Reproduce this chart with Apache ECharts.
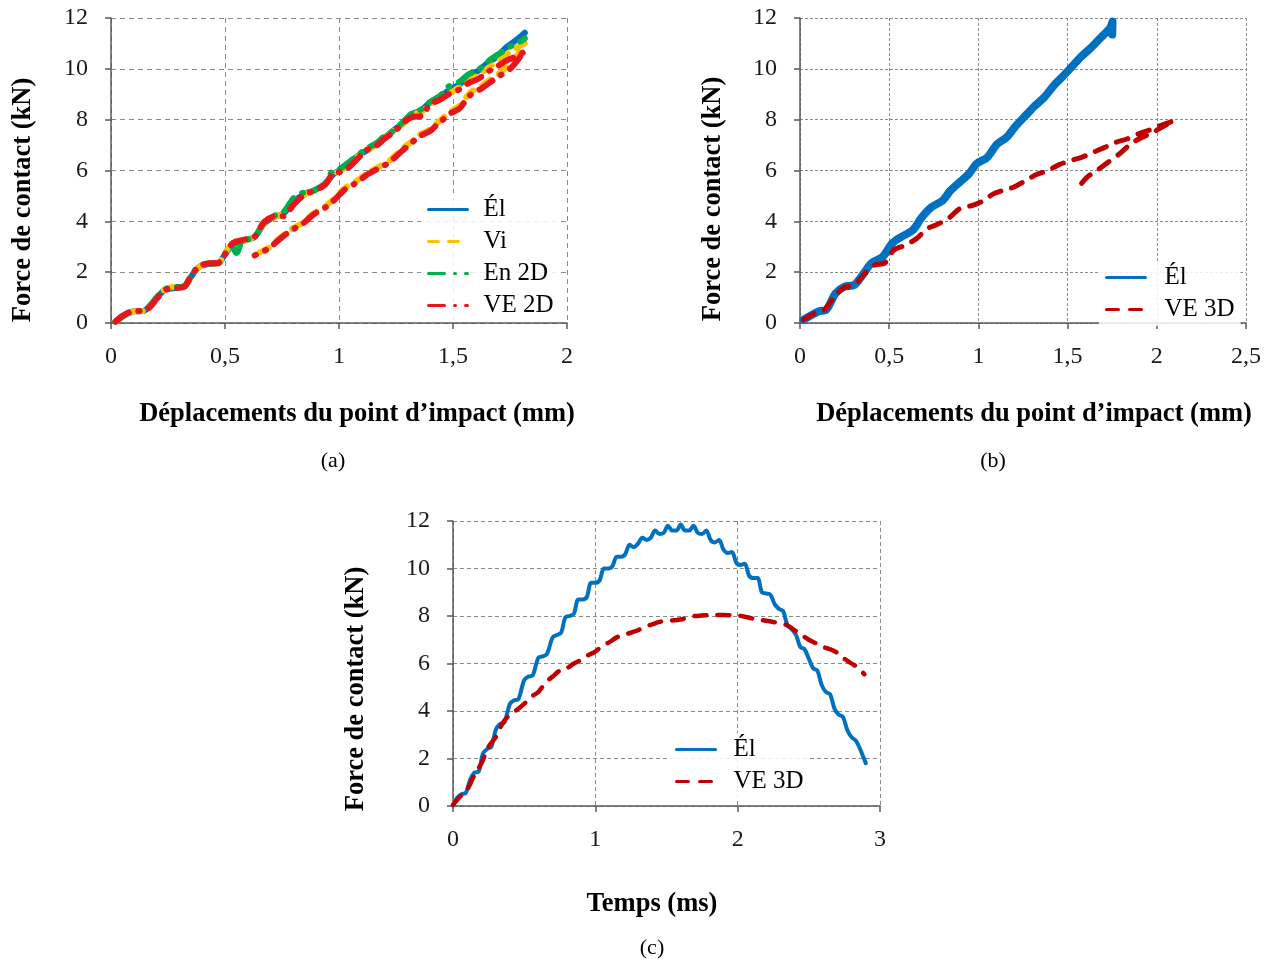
<!DOCTYPE html>
<html>
<head>
<meta charset="utf-8">
<script src="https://cdn.jsdelivr.net/npm/echarts@6/dist/echarts.min.js"></script>
<style>html,body{margin:0;padding:0;background:#fff}#c{width:1276px;height:961px}</style>
</head>
<body>
<div id="c"></div>
<script>
// ---------- DATA ----------
// (a) Force (kN) vs displacement (mm)
const aEl = [[0.02,0.05],[0.05,0.25],[0.08,0.4],[0.1,0.46],[0.14,0.47],[0.17,0.65],[0.2,0.98],[0.235,1.3],[0.27,1.37],[0.32,1.42],[0.35,1.8],[0.385,2.2],[0.43,2.33],[0.47,2.35],[0.5,2.7],[0.535,3.1],[0.585,3.25],[0.63,3.38],[0.67,3.9],[0.71,4.15],[0.755,4.3],[0.805,4.8],[0.85,5.08],[0.89,5.22],[0.94,5.48],[0.975,5.85],[1.01,6.05],[1.04,6.25],[1.075,6.52],[1.12,6.78],[1.16,7.0],[1.2,7.3],[1.245,7.62],[1.285,7.88],[1.32,8.22],[1.36,8.36],[1.4,8.68],[1.445,8.9],[1.48,9.15],[1.53,9.4],[1.57,9.72],[1.61,9.92],[1.655,10.25],[1.695,10.5],[1.73,10.82],[1.765,11.05],[1.8,11.3],[1.815,11.42]];
const aVi = [[0.02,0.05],[0.05,0.25],[0.1,0.46],[0.14,0.47],[0.2,0.98],[0.235,1.32],[0.27,1.42],[0.32,1.44],[0.35,1.8],[0.385,2.2],[0.43,2.33],[0.47,2.35],[0.5,2.75],[0.535,3.15],[0.585,3.25],[0.63,3.4],[0.67,3.9],[0.71,4.15],[0.755,4.3],[0.805,4.8],[0.85,5.05],[0.89,5.22],[0.94,5.5],[0.975,5.85],[1.01,6.0],[1.04,6.22],[1.075,6.5],[1.12,6.75],[1.16,7.0],[1.2,7.28],[1.245,7.6],[1.285,7.85],[1.32,8.2],[1.36,8.3],[1.4,8.6],[1.445,8.8],[1.48,9.0],[1.53,9.3],[1.57,9.55],[1.61,9.75],[1.655,10.05],[1.695,10.3],[1.73,10.55],[1.765,10.75],[1.8,10.95],[1.815,11.0],
  [1.8,10.8],[1.78,10.5],[1.75,10.2],[1.7,9.8],[1.66,9.55],[1.62,9.3],[1.58,9.1],[1.555,8.85],[1.53,8.55],[1.5,8.38],[1.479,8.26],[1.45,8.02],[1.429,7.86],[1.4,7.62],[1.353,7.4],[1.32,7.15],[1.28,6.88],[1.25,6.62],[1.218,6.36],[1.176,6.15],[1.126,5.9],[1.076,5.58],[1.025,5.3],[0.975,4.86],[0.941,4.6],[0.89,4.32],[0.84,3.94],[0.79,3.68],[0.74,3.34],[0.689,2.95],[0.63,2.7]];
const aEn2D = [[0.02,0.05],[0.05,0.25],[0.08,0.42],[0.1,0.47],[0.14,0.47],[0.17,0.68],[0.2,1.0],[0.235,1.32],[0.27,1.4],[0.32,1.45],[0.35,1.85],[0.385,2.22],[0.43,2.33],[0.47,2.36],[0.5,2.72],[0.53,3.0],[0.55,2.75],[0.575,3.2],[0.63,3.4],[0.67,3.95],[0.71,4.2],[0.755,4.35],[0.805,4.95],[0.85,5.15],[0.89,5.2],[0.94,5.5],[0.97,5.95],[1.01,6.1],[1.04,6.3],[1.075,6.55],[1.12,6.85],[1.16,7.05],[1.2,7.35],[1.245,7.6],[1.285,7.95],[1.32,8.25],[1.36,8.4],[1.4,8.7],[1.445,8.95],[1.48,9.3],[1.53,9.5],[1.57,9.8],[1.61,9.95],[1.655,10.3],[1.695,10.55],[1.73,10.75],[1.765,10.95],[1.8,11.1],[1.815,11.2]];
const aVE2D = [[0.02,0.05],[0.05,0.28],[0.1,0.47],[0.14,0.48],[0.17,0.62],[0.2,0.95],[0.235,1.28],[0.27,1.37],[0.32,1.42],[0.35,1.82],[0.385,2.22],[0.43,2.35],[0.47,2.36],[0.5,2.7],[0.535,3.15],[0.585,3.28],[0.63,3.4],[0.67,3.95],[0.71,4.18],[0.755,4.2],[0.805,4.7],[0.85,5.05],[0.89,5.2],[0.94,5.45],[0.975,5.9],[1.01,5.95],[1.04,6.1],[1.075,6.4],[1.12,6.8],[1.16,6.95],[1.2,7.25],[1.245,7.55],[1.285,7.9],[1.32,8.1],[1.36,8.15],[1.4,8.6],[1.445,8.8],[1.48,9.0],[1.53,9.2],[1.57,9.45],[1.61,9.6],[1.655,9.9],[1.695,10.1],[1.73,10.3],[1.765,10.45],[1.8,10.6],[1.815,10.7],
  [1.8,10.55],[1.78,10.3],[1.75,10.0],[1.7,9.7],[1.66,9.45],[1.62,9.2],[1.58,9.0],[1.555,8.75],[1.53,8.45],[1.5,8.3],[1.479,8.2],[1.45,7.95],[1.429,7.8],[1.4,7.55],[1.353,7.35],[1.32,7.1],[1.28,6.8],[1.25,6.55],[1.218,6.3],[1.176,6.1],[1.126,5.85],[1.076,5.52],[1.025,5.25],[0.975,4.8],[0.941,4.55],[0.89,4.28],[0.84,3.9],[0.79,3.64],[0.74,3.3],[0.689,2.92],[0.63,2.66]];

// (b) Force (kN) vs displacement (mm)
const bEl = [[0.02,0.13],[0.105,0.46],[0.147,0.52],[0.2,1.17],[0.25,1.43],[0.305,1.5],[0.358,1.96],[0.4,2.35],[0.463,2.6],[0.516,3.13],[0.568,3.39],[0.632,3.65],[0.684,4.17],[0.737,4.56],[0.8,4.82],[0.842,5.2],[0.895,5.54],[0.947,5.87],[0.989,6.26],[1.05,6.52],[1.105,7.04],[1.158,7.3],[1.21,7.76],[1.263,8.15],[1.316,8.54],[1.368,8.87],[1.42,9.32],[1.474,9.71],[1.526,10.1],[1.579,10.5],[1.63,10.82],[1.684,11.21],[1.737,11.6],[1.752,11.86],[1.75,11.35]];
const bVE3D = [[0.02,0.13],[0.084,0.39],[0.137,0.52],[0.2,1.1],[0.25,1.4],[0.305,1.5],[0.358,1.9],[0.42,2.28],[0.474,2.35],[0.526,2.87],[0.589,3.06],[0.653,3.32],[0.716,3.72],[0.779,3.91],[0.842,4.17],[0.895,4.5],[0.968,4.63],[1.03,4.82],[1.084,5.08],[1.147,5.24],[1.2,5.35],[1.263,5.6],[1.326,5.84],[1.39,6.0],[1.453,6.23],[1.516,6.39],[1.579,6.52],[1.642,6.71],[1.705,6.9],[1.768,7.1],[1.832,7.24],[1.895,7.43],[1.958,7.59],[2.032,7.8],[2.095,7.95],
  [2.042,7.76],[1.979,7.5],[1.916,7.3],[1.853,7.04],[1.79,6.65],[1.726,6.32],[1.663,6.0],[1.61,5.74],[1.568,5.41]];

// (c) Force (kN) vs time (ms)
const cEl = [[0,0.02],[0.03,0.35],[0.06,0.5],[0.09,0.55],[0.12,1.1],[0.15,1.4],[0.18,1.45],[0.21,2.2],[0.24,2.4],[0.27,2.5],[0.3,3.2],[0.33,3.45],[0.36,3.5],[0.4,4.3],[0.43,4.45],[0.46,4.5],[0.5,5.3],[0.53,5.45],[0.56,5.5],[0.6,6.25],[0.63,6.3],[0.66,6.4],[0.7,7.1],[0.73,7.2],[0.76,7.3],[0.79,7.95],[0.82,8.0],[0.85,8.1],[0.88,8.7],[0.91,8.7],[0.94,8.8],[0.97,9.4],[1.0,9.4],[1.03,9.5],[1.06,10.0],[1.09,10.0],[1.12,10.1],[1.15,10.5],[1.18,10.5],[1.21,10.6],[1.24,11.0],[1.27,10.9],[1.3,11.05],[1.33,11.3],[1.36,11.2],[1.39,11.3],[1.42,11.6],[1.45,11.45],[1.48,11.5],[1.51,11.8],[1.54,11.6],[1.57,11.6],[1.6,11.85],[1.63,11.6],[1.66,11.6],[1.69,11.8],[1.72,11.5],[1.75,11.45],[1.78,11.6],[1.81,11.2],[1.84,11.1],[1.87,11.2],[1.9,10.8],[1.93,10.65],[1.96,10.7],[1.99,10.25],[2.02,10.15],[2.05,10.2],[2.08,9.7],[2.11,9.6],[2.14,9.6],[2.17,9.0],[2.2,8.95],[2.23,8.9],[2.26,8.5],[2.29,8.3],[2.32,8.2],[2.35,7.6],[2.38,7.45],[2.41,7.2],[2.44,6.7],[2.47,6.6],[2.5,6.2],[2.53,5.8],[2.56,5.7],[2.59,5.1],[2.62,4.8],[2.65,4.7],[2.68,4.1],[2.71,3.85],[2.74,3.75],[2.77,3.2],[2.8,2.9],[2.83,2.75],[2.86,2.4],[2.9,1.8]];
const cVE3D = [[0,0.05],[0.05,0.4],[0.1,0.7],[0.15,1.3],[0.2,1.8],[0.25,2.5],[0.3,2.9],[0.35,3.5],[0.4,3.85],[0.45,4.05],[0.5,4.3],[0.55,4.6],[0.6,4.8],[0.65,5.2],[0.7,5.45],[0.75,5.7],[0.8,5.8],[0.85,6.0],[0.9,6.15],[0.95,6.35],[1.0,6.5],[1.05,6.75],[1.1,6.9],[1.15,7.1],[1.2,7.2],[1.25,7.3],[1.3,7.4],[1.35,7.55],[1.4,7.65],[1.45,7.75],[1.5,7.8],[1.55,7.82],[1.6,7.85],[1.65,7.95],[1.7,8.0],[1.75,8.02],[1.8,8.04],[1.85,8.04],[1.9,8.04],[1.95,8.03],[2.0,8.02],[2.05,7.97],[2.1,7.9],[2.15,7.85],[2.2,7.8],[2.25,7.75],[2.3,7.7],[2.35,7.6],[2.4,7.4],[2.45,7.2],[2.5,7.0],[2.55,6.85],[2.6,6.7],[2.65,6.6],[2.7,6.45],[2.75,6.2],[2.8,6.0],[2.85,5.8],[2.89,5.55]];

const legendA = ['Él','Vi','En 2D','VE 2D'];
const legendB = ['Él','VE 3D'];
const legendC = ['Él','VE 3D'];

const yTitle = 'Force de contact (kN)';
const xTitleAB = 'Déplacements du point d\u2019impact (mm)';
const xTitleC = 'Temps (ms)';
const captions = ['(a)','(b)','(c)'];

// ---------- CHART ----------
const SERIF = '"Liberation Serif","Times New Roman",serif';
const fmt = v => String(v).replace('.', ',');

function xAxis(gi, max, interval, dash) {
  return {
    type:'value', gridIndex:gi, min:0, max:max, interval:interval,
    axisLine:{show:true, onZero:false, lineStyle:{color:'#595959', width:1.5}},
    axisTick:{show:true, length:6, lineStyle:{color:'#595959', width:1.5}},
    axisLabel:{fontFamily:SERIF, fontSize:24, color:'#1a1a1a', margin:22, formatter:fmt},
    splitLine:{show:true, lineStyle:{color:'#8a8a8a', width:1, type:dash}}
  };
}
function yAxis(gi, dash) {
  return {
    type:'value', gridIndex:gi, min:0, max:12, interval:2,
    axisLine:{show:true, lineStyle:{color:'#595959', width:1.5}},
    axisTick:{show:true, length:6, lineStyle:{color:'#595959', width:1.5}},
    axisLabel:{fontFamily:SERIF, fontSize:24, color:'#1a1a1a', margin:23, formatter:fmt},
    splitLine:{show:true, lineStyle:{color:'#8a8a8a', width:1, type:dash}}
  };
}
function line(name, data, xi, color, width, type, z) {
  return {
    type:'line', name:name, data:data, xAxisIndex:xi, yAxisIndex:xi,
    symbol:'none', smooth:0.3, z:z||2,
    lineStyle:{color:color, width:width, type:type, cap:'round', join:'round'},
    itemStyle:{color:color}
  };
}
function legend(data, left, top, textPad) {
  return {
    data:data, orient:'vertical', left:left, top:top,
    itemWidth:39, itemHeight:14, itemGap:7, padding:[4,6],
    backgroundColor:'rgba(255,255,255,0.85)',
    selectedMode:false,
    lineStyle:{width:3},
    itemStyle:{opacity:0},
    textStyle:{fontFamily:SERIF, fontSize:25, lineHeight:25, color:'#000', padding:[0,0,0,textPad]}
  };
}
function txt(text, x, y, size, bold, rot) {
  return {
    type:'text', x:x, y:y, rotation:rot||0, z:100,
    style:{text:text, font:(bold?'bold ':'')+size+'px '+SERIF, fill:'#000',
      textAlign:'center', textVerticalAlign:'middle', align:'center', verticalAlign:'middle'}
  };
}

const chart = echarts.init(document.getElementById('c'), null, {renderer:'canvas'});
chart.setOption({
  animation:false,
  backgroundColor:'#fff',
  grid:[
    {left:111, top:18, width:456, height:305},
    {left:800, top:18, width:446, height:305},
    {left:453, top:521, width:427, height:285}
  ],
  xAxis:[xAxis(0,2,0.5,[5,4]), xAxis(1,2.5,0.5,[3,2]), xAxis(2,3,1,[4,3])],
  yAxis:[yAxis(0,[5,4]), yAxis(1,[3,2]), yAxis(2,[4,3])],
  legend:[
    legend(legendA, 421, 193, 11),
    legend(legendB, 1099, 261, 14),
    legend(legendC, 669, 733, 13)
  ],
  series:[
    line('Él', aEl, 0, '#0070C0', 6, 'solid', 2),
    line('Vi', aVi, 0, '#FFC000', 6, [10,10], 3),
    line('En 2D', aEn2D, 0, '#00B050', 6, [16,10,1,10], 4),
    line('VE 2D', aVE2D, 0, '#E8161B', 6, [16,10,1,10], 5),
    line('Él', bEl, 1, '#0070C0', 8, 'solid', 2),
    line('VE 3D', bVE3D, 1, '#C00000', 5, [12,11], 3),
    line('Él', cEl, 2, '#0070C0', 4, 'solid', 2),
    line('VE 3D', cVE3D, 2, '#C00000', 4.5, [12,11], 3)
  ],
  graphic:[
    txt(yTitle, 23, 200, 26.5, true, Math.PI/2),
    txt(yTitle, 713, 199, 26.5, true, Math.PI/2),
    txt(yTitle, 356, 689, 26.5, true, Math.PI/2),
    txt(xTitleAB, 357, 414, 26.5, true),
    txt(xTitleAB, 1034, 414, 26.5, true),
    txt(xTitleC, 652, 904, 26.5, true),
    txt(captions[0], 333, 461, 22, false),
    txt(captions[1], 993, 461, 22, false),
    txt(captions[2], 652, 948, 22, false)
  ]
});
</script>
</body>
</html>
